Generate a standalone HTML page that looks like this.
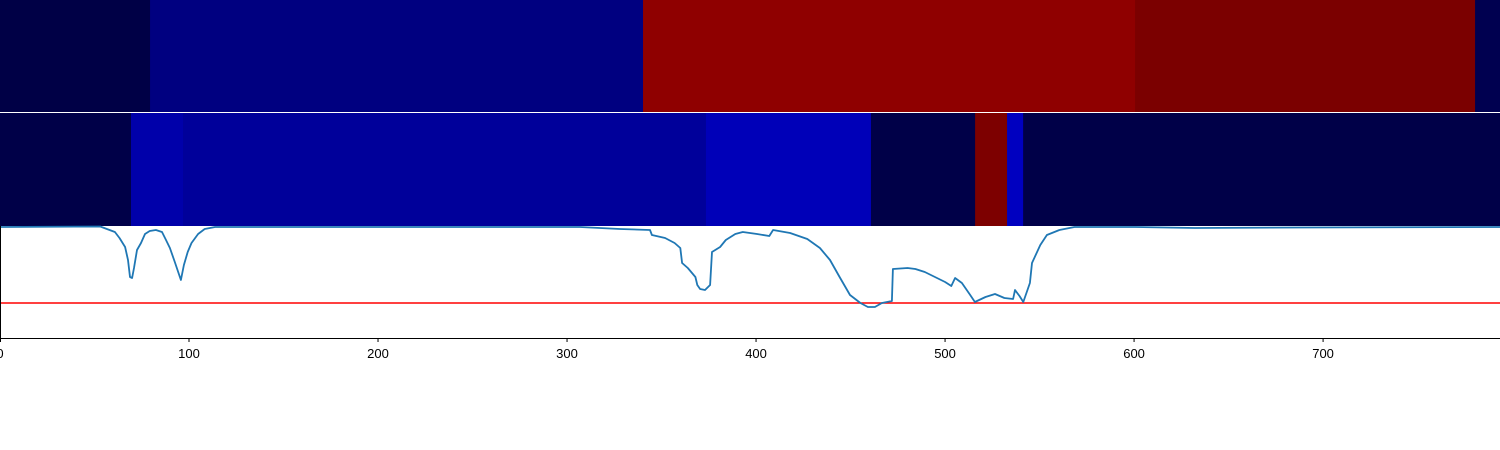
<!DOCTYPE html>
<html><head><meta charset="utf-8"><style>
body{margin:0;background:#fff;}
svg{display:block;font-family:"Liberation Sans","DejaVu Sans",sans-serif;}
</style></head><body>
<svg id="chart" width="1500" height="450"></svg>
<script>
// heatmap rows: segment boundaries (data x) and colours
const row1Edges = [0, 79.4, 340.2, 600.5, 780.4, 794];
const row1Colors = ["#000046", "#000080", "#8f0000", "#7b0000", "#000050"];
const row2Edges = [0, 69.3, 96.8, 373.5, 460.8, 515.9, 532.8, 541.3, 794];
const row2Colors = ["#000048", "#0000aa", "#00009a", "#0000b8", "#000048", "#7d0000", "#0000c0", "#000048"];
// line series
const lineX = [0,53,60.8,63.2,66.2,67.7,68.8,69.9,70.9,72.5,74.6,76.7,79.2,82.5,85.7,87.8,89.9,92.5,95.7,97.3,99.3,101.3,104.8,108.3,113.8,306.8,327.9,343.9,344.9,351.9,356.9,359.9,360.9,363.9,367.9,368.9,370.4,373,375.7,376.7,381,384,389,393,400.5,407,409,418,427.1,433.8,439.1,444.2,449.7,455.2,459.2,462.9,466.6,471.9,472.4,480.2,484.3,489.3,500,503.3,505.3,508.9,513.3,515.8,521.4,526.4,531.4,536,537,539.4,541.4,544.9,546,550.4,553.9,560.5,568.5,600.6,632.2,687.8,793.6];
const lineY = [111,111.5,106,100,91,78,61,60,70,88,95,104,107,108,106,98,90,76,58,73,86,95,104,109,111,111,109,108,103,100,95,90,75,70,61,53,49,48,53,86,91,98,104,106,104,102,108,105,99,90,78,61,43,35,31,31,35,37,69,70,69,66,56,52,60,55,43,36,41,44,40,39,48,42,36,55,75,93,103,108,111,111,110,110.5,111];
const threshold = [35];
const xTicks = [0,100,200,300,400,500,600,700];

const NS = "http://www.w3.org/2000/svg";
const svg = document.getElementById("chart");
const X0 = 0, X1 = 1500, xMin = 0, xMax = 793.6;
const sx = v => X0 + (v - xMin) / (xMax - xMin) * (X1 - X0);
const PT = 226, PB = 338, yMin = 0, yMax = 112;
const sy = v => PB - (v - yMin) / (yMax - yMin) * (PB - PT);
function mk(tag, attrs){const e=document.createElementNS(NS,tag);for(const k in attrs)e.setAttribute(k,attrs[k]);svg.appendChild(e);return e;}

function drawRow(edges, colors, y, h, name){
  for(let i=0;i<colors.length;i++){
    const x=sx(edges[i]), w=sx(Math.min(edges[i+1],xMax))-x;
    const r=mk("rect",{x:x,y:y,width:w+0.5,height:h,fill:colors[i]});
    
    
  }
}
drawRow(row1Edges,row1Colors,0,112,"top-heatmap");
drawRow(row2Edges,row2Colors,113,113,"middle-heatmap");

const th=mk("line",{x1:sx(xMin),x2:sx(xMax),y1:sy(threshold[0]),y2:sy(threshold[0]),stroke:"#ff0000","stroke-width":1.6});



let d="";
for(let i=0;i<lineX.length;i++){d+=(i?"L":"M")+sx(lineX[i]).toFixed(1)+","+sy(lineY[i]).toFixed(1);}
const p=mk("path",{d:d,fill:"none",stroke:"#1f77b4","stroke-width":1.8,"stroke-linejoin":"round"});



const ax=mk("path",{d:"M0.5,226V338.5H1500",fill:"none",stroke:"#000","stroke-width":1});



xTicks.forEach(t=>{
  const x=Math.max(0.5,sx(t));
  const tk=mk("line",{x1:x,x2:x,y1:338,y2:342,stroke:"#000","stroke-width":1});
  
  
  const tx=mk("text",{x:sx(t),y:358,"font-size":13,"text-anchor":"middle",fill:"#000"});
  tx.textContent=t;
  
  
});
</script>
</body></html>
